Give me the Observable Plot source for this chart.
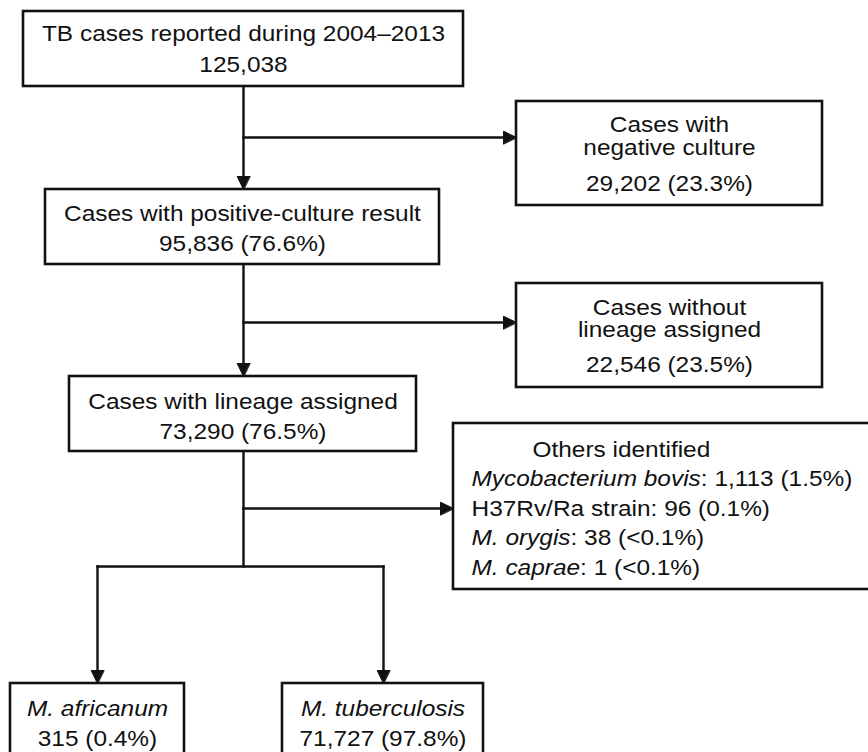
<!DOCTYPE html>
<html>
<head>
<meta charset="utf-8">
<script src="https://cdn.jsdelivr.net/npm/d3@7"></script>
<script src="https://cdn.jsdelivr.net/npm/@observablehq/plot@0.6"></script>
<style>
  html, body { margin: 0; padding: 0; background: #fff; }
  #chart { width: 868px; height: 752px; overflow: hidden; }
</style>
</head>
<body>
<div id="chart"></div>
<script>
// ---------- DATA ----------
const stepLabels = ["TB cases reported during 2004–2013", "Cases with positive-culture result", "Cases with lineage assigned"];
const stepCounts = [125038, 95836, 73290];
const stepPercents = [null, 76.6, 76.5];

const excludedLabels = [["Cases with", "negative culture"], ["Cases without", "lineage assigned"]];
const excludedCounts = [29202, 22546];
const excludedPercents = [23.3, 23.5];

const othersTitle = "Others identified";
const otherSpecies = ["Mycobacterium bovis", "H37Rv/Ra strain", "M. orygis", "M. caprae"];
const otherItalic = [true, false, true, true];
const otherCounts = [1113, 96, 38, 1];
const otherPercents = ["1.5%", "0.1%", "<0.1%", "<0.1%"];

const lineageLabels = ["M. africanum", "M. tuberculosis"];
const lineageCounts = [315, 71727];
const lineagePercents = [0.4, 97.8];

// ---------- LAYOUT (pixel space) ----------
const W = 868, H = 752;
const FONT = 22, SX = 1.11;
const stepBoxes = [[23, 11, 463, 86], [45, 189, 439, 264], [69, 376, 416, 451]];
const stepBaselines = [[40.7, 71.7], [220.7, 250.7], [408, 438]];
const exclBoxes = [[516, 101, 822, 205], [516, 283, 822, 387]];
const exclBaselines = [[131.7, 154, 190], [314.3, 336.7, 371]];
const othersBox = [453, 423, 880, 589];
const othersTitlePos = [532, 456.7];
const othersLineX = 471;
const othersBaselines = [485.7, 515, 544, 574];
const lineageBoxes = [[10, 683, 184, 770], [282, 683, 483, 770]];
const lineageBaselines = [715, 745];
const mainX = 243;
// connectors: [x1,y1,x2,y2,arrow]
const connectors = [
  [mainX, 86, mainX, 189, true],
  [mainX, 137, 516, 137, true],
  [mainX, 264, mainX, 376, true],
  [mainX, 322, 516, 322, true],
  [mainX, 451, mainX, 566, false],
  [mainX, 508, 453, 508, true],
  [97, 566, 383, 566, false],
  [97, 566, 97, 683, true],
  [383, 566, 383, 683, true]
];
const HEAD_L = 13, HEAD_W = 6.3;

// ---------- build tables ----------
const fmt = d3.format(",");
const pct = p => `(${p}%)`;

const boxes = [
  ...stepBoxes, ...exclBoxes, othersBox, ...lineageBoxes
].map(([x1, y1, x2, y2]) => ({x1, y1, x2, y2}));

const texts = [];
stepLabels.forEach((lab, i) => {
  const [x1, , x2] = stepBoxes[i];
  const cx = (x1 + x2) / 2;
  texts.push({x: cx, y: stepBaselines[i][0], t: lab});
  texts.push({x: cx, y: stepBaselines[i][1], t: fmt(stepCounts[i]) + (stepPercents[i] == null ? "" : " " + pct(stepPercents[i]))});
});
excludedLabels.forEach((lines, i) => {
  const [x1, , x2] = exclBoxes[i];
  const cx = (x1 + x2) / 2;
  lines.forEach((l, j) => texts.push({x: cx, y: exclBaselines[i][j], t: l}));
  texts.push({x: cx, y: exclBaselines[i][2], t: `${fmt(excludedCounts[i])} ${pct(excludedPercents[i])}`});
});
const italicCenter = [];
lineageLabels.forEach((lab, i) => {
  const [x1, , x2] = lineageBoxes[i];
  const cx = (x1 + x2) / 2;
  italicCenter.push({x: cx, y: lineageBaselines[0], t: lab});
  texts.push({x: cx, y: lineageBaselines[1], t: `${fmt(lineageCounts[i])} ${pct(lineagePercents[i])}`});
});

// others block: measure italic species widths
const ctx = document.createElement("canvas").getContext("2d");
function measure(str, italic) {
  ctx.font = `${italic ? "italic " : ""}${FONT}px "Liberation Sans", Arial, sans-serif`;
  return ctx.measureText(str).width;
}
const othersStart = [{x: othersTitlePos[0], y: othersTitlePos[1], t: othersTitle, it: false}];
otherSpecies.forEach((s, i) => {
  const rest = `: ${fmt(otherCounts[i])} (${otherPercents[i]})`;
  if (otherItalic[i]) {
    othersStart.push({x: othersLineX, y: othersBaselines[i], t: s, it: true});
    othersStart.push({x: othersLineX + measure(s, true) * SX, y: othersBaselines[i], t: rest, it: false});
  } else {
    othersStart.push({x: othersLineX, y: othersBaselines[i], t: s + rest, it: false});
  }
});

const links = connectors.map(([x1, y1, x2, y2, a]) => {
  let ex = x2, ey = y2;
  if (a) {
    if (x1 === x2) ey = y2 - Math.sign(y2 - y1) * (HEAD_L - 1);
    else ex = x2 - Math.sign(x2 - x1) * (HEAD_L - 1);
  }
  return {x1, y1, x2: ex, y2: ey};
});
const heads = [];
connectors.forEach(([x1, y1, x2, y2, a], k) => {
  if (!a) return;
  if (x1 === x2) {
    const s = Math.sign(y2 - y1);
    heads.push({k, x: x2, y: y2}, {k, x: x2 - HEAD_W, y: y2 - s * HEAD_L}, {k, x: x2 + HEAD_W, y: y2 - s * HEAD_L});
  } else {
    const s = Math.sign(x2 - x1);
    heads.push({k, x: x2, y: y2}, {k, x: x2 - s * HEAD_L, y: y2 - HEAD_W}, {k, x: x2 - s * HEAD_L, y: y2 + HEAD_W});
  }
});

const INK = "#111";
const chart = Plot.plot({
  width: W,
  height: H,
  margin: 0,
  x: {domain: [0, W], range: [0, W], axis: null},
  y: {domain: [0, H], range: [0, H], axis: null},
  style: {fontFamily: '"Liberation Sans", Arial, sans-serif', background: "white", color: INK},
  marks: [
    Plot.link(links, {x1: "x1", y1: "y1", x2: "x2", y2: "y2", stroke: INK, strokeWidth: 2.4, strokeLinecap: "square"}),
    Plot.line(heads, {x: "x", y: "y", z: "k", curve: "linear-closed", fill: INK, stroke: INK, strokeWidth: 1}),
    Plot.rect(boxes, {x1: "x1", y1: "y1", x2: "x2", y2: "y2", fill: "white", stroke: INK, strokeWidth: 2.6}),
    Plot.text(texts, {x: "x", y: "y", text: "t", lineAnchor: "bottom", textAnchor: "middle", fontSize: FONT, fill: INK}),
    Plot.text(italicCenter, {x: "x", y: "y", text: "t", lineAnchor: "bottom", textAnchor: "middle", fontSize: FONT, fontStyle: "italic", fill: INK}),
    Plot.text(othersStart.filter(d => !d.it), {x: "x", y: "y", text: "t", lineAnchor: "bottom", textAnchor: "start", fontSize: FONT, fill: INK}),
    Plot.text(othersStart.filter(d => d.it), {x: "x", y: "y", text: "t", lineAnchor: "bottom", textAnchor: "start", fontSize: FONT, fontStyle: "italic", fill: INK})
  ]
});
// widen glyphs horizontally to match the reference's letter proportions
chart.querySelectorAll("text").forEach(t => {
  const tr = t.getAttribute("transform");
  if (tr && tr.includes("translate")) t.setAttribute("transform", tr + ` scale(${SX},1)`);
});
document.getElementById("chart").appendChild(chart);
</script>
</body>
</html>
